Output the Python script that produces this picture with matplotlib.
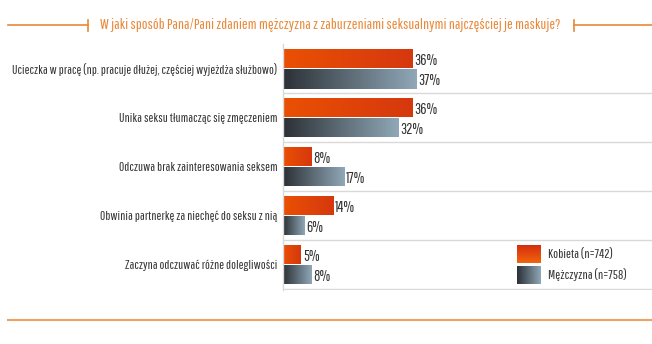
import matplotlib.pyplot as plt
import numpy as np
from matplotlib.colors import to_rgb
from matplotlib.lines import Line2D

# ------------------------------------------------------------------ data
CATEGORIES = [
    "Ucieczka w pracę (np. pracuje dłużej, częściej wyjeżdża służbowo)",
    "Unika seksu tłumacząc się zmęczeniem",
    "Odczuwa brak zainteresowania seksem",
    "Obwinia partnerkę za niechęć do seksu z nią",
    "Zaczyna odczuwać różne dolegliwości",
]
KOBIETA = [36, 36, 8, 14, 5]
MEZCZYZNA = [37, 32, 17, 6, 8]
SERIES_NAMES = ["Kobieta (n=742)", "Mężczyzna (n=758)"]
TITLE = "W jaki sposób Pana/Pani zdaniem mężczyzna z zaburzeniami seksualnymi najczęściej je maskuje?"

# ------------------------------------------------------------------ style
plt.rcParams["font.family"] = ["Pathway Gothic One", "Roboto Condensed", "DejaVu Sans"]

ORANGE = ("#ea5004", "#d6380e")
GRAY = ("#2c3136", "#8fa7b7")
TITLE_C = "#e8893a"
INK = "#333333"
SEP = "#d9d9d9"

W, H = 652, 344


def px_axes(fig, x0, y0, x1, y1):
    """Axes from a pixel box (top-left origin)."""
    return fig.add_axes([x0 / W, 1 - y1 / H, (x1 - x0) / W, (y1 - y0) / H])


def hgrad(c0, c1, n=64):
    a, b = np.array(to_rgb(c0)), np.array(to_rgb(c1))
    t = np.linspace(0, 1, n)[:, None]
    return (a + (b - a) * t)[None, :, :]


fig = plt.figure(figsize=(W / 100, H / 100), dpi=100)

# ------------------------------------------------------------------ main bars
ax = px_axes(fig, 283, 44, W, 290)
n = len(CATEGORIES)
y = np.arange(n)
bh = 0.39
off = 0.205
xmax = (W - 283) / 3.6

bars_k = ax.barh(y - off, KOBIETA, height=bh, color="none", edgecolor="none")
bars_m = ax.barh(y + off, MEZCZYZNA, height=bh, color="none", edgecolor="none")

for bars, cols in ((bars_k, ORANGE), (bars_m, GRAY)):
    for p in bars:
        x0, y0 = p.get_x(), p.get_y()
        w, h = p.get_width(), p.get_height()
        im = ax.imshow(hgrad(*cols), extent=(x0, x0 + w, y0 + h, y0),
                       aspect="auto", interpolation="bilinear", zorder=2)
        im.set_clip_path(p)
        ax.text(x0 + w + 0.5, y0 + h / 2 + 0.03, f"{int(w)}%", ha="left",
                va="center", fontsize=11.2, color=INK, zorder=3)

for i in range(n):
    ax.axhline(i + 0.49, color=SEP, lw=1.0, zorder=1)

ax.set_xlim(0, xmax)
ax.set_ylim(4.52, -0.51)
ax.set_yticks(y)
ax.set_yticklabels(CATEGORIES, fontsize=9.4, color=INK)
ax.tick_params(axis="y", length=0, pad=4)
ax.set_xticks([])
for s in ("top", "right", "bottom"):
    ax.spines[s].set_visible(False)
ax.spines["left"].set_color(SEP)
ax.spines["left"].set_linewidth(1.0)

# ------------------------------------------------------------------ legend
lax = px_axes(fig, 517, 245, 645, 284)
lax.set_xlim(0, 128)
lax.set_ylim(39, 0)
lax.axis("off")
t = np.linspace(0, 1, 32)[:, None]
a, b = np.array(to_rgb("#d42f0e")), np.array(to_rgb("#f2640c"))
vgrad = (a + (b - a) * t)[:, None, :]
lax.imshow(vgrad, extent=(0, 24, 18, 0), aspect="auto", interpolation="bilinear")
lax.imshow(hgrad(*GRAY), extent=(0, 24, 39, 21), aspect="auto", interpolation="bilinear")
lax.text(31, 9, SERIES_NAMES[0], ha="left", va="center", fontsize=9.6, color=INK)
lax.text(31, 30, SERIES_NAMES[1], ha="left", va="center", fontsize=9.6, color=INK)

# ------------------------------------------------------------------ title + rules
ty = 1 - 25 / H
fig.text(330 / W, ty, TITLE, ha="center", va="center",
         fontsize=11.0, color=TITLE_C)
fig.add_artist(Line2D([8 / W, 88 / W], [ty, ty], color=TITLE_C, lw=1.2))
fig.add_artist(Line2D([88 / W, 88 / W], [1 - 20 / H, 1 - 31 / H], color=TITLE_C, lw=1.2))
fig.add_artist(Line2D([574 / W, 1.0], [ty, ty], color=TITLE_C, lw=1.2))
fig.add_artist(Line2D([574 / W, 574 / W], [1 - 20 / H, 1 - 31 / H], color=TITLE_C, lw=1.2))
fig.add_artist(Line2D([8 / W, 1.0], [1 - 320 / H, 1 - 320 / H], color="#f0a060", lw=1.5))

fig.savefig("out.png", dpi=100)
